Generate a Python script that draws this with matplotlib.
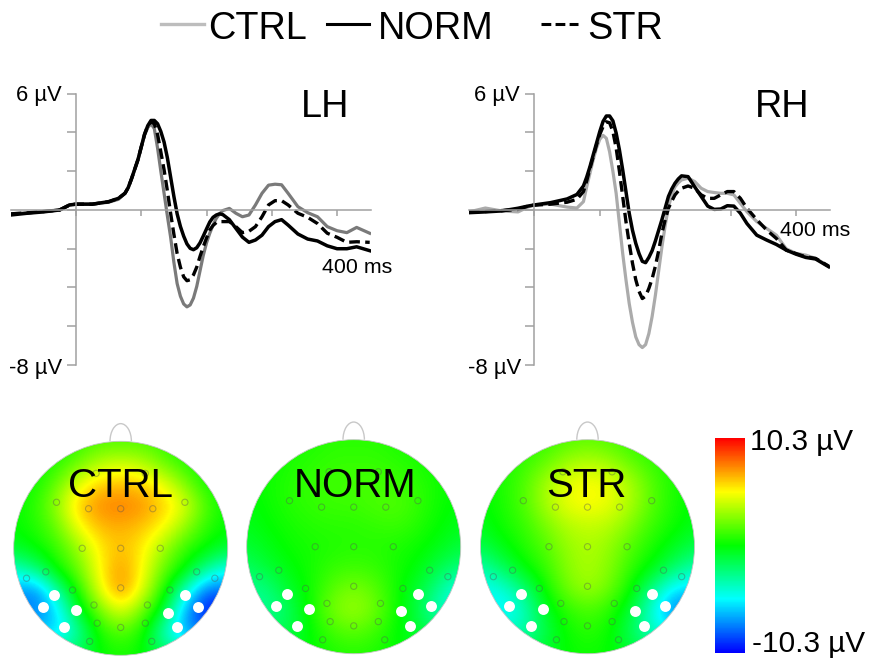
#!/usr/bin/env python3
# ERP waveforms (LH / RH) with scalp topographies for CTRL, NORM, STR
import numpy as np
import matplotlib
matplotlib.use('Agg')
import matplotlib.pyplot as plt
from matplotlib.cm import ScalarMappable
from matplotlib.colors import LinearSegmentedColormap, Normalize
from matplotlib.patches import Arc, Circle

plt.rcParams['font.family'] = ['Liberation Sans', 'DejaVu Sans']

W, H = 892, 668

# ---- waveforms: time in ms, amplitude in uV ----
time_ms = [-100, -75, -50, -25, -10, 0, 25, 50, 65,
           75, 80, 85, 90, 95, 100, 105, 110, 115, 120, 125, 130, 135, 140, 145, 150,
           155, 160, 165, 170, 175, 180, 185, 190, 195, 200, 205, 210, 215, 220, 225,
           235, 245, 255, 265, 275, 285, 295, 305,
           315, 325, 340, 355, 370, 385, 400, 415, 430, 450]

lh_ctrl = [-.2, -.15, -.08, 0, .25, .3, .3, .4, .55,
           .85, 1.15, 1.6, 2.1, 2.6, 3.25, 3.85, 4.25, 4.45, 4.2, 3.2, 2.0, .86, -.3, -1.4, -2.7,
           -3.8, -4.45, -4.85, -5.0, -4.9, -4.55, -3.95, -3.15, -2.35, -1.7, -1.2, -.78, -.43, -.2, -.03,
           .08, -.17, -.35, -.26, .26, .86, 1.28, 1.33,
           1.3, .86, .17, -.14, -.35, -.86, -1.07, -1.17, -.9, -1.2]
lh_norm = [-.26, -.17, -.1, 0, .26, .3, .3, .43, .6,
           .86, 1.15, 1.6, 2.1, 2.6, 3.25, 3.9, 4.35, 4.62, 4.62, 4.45, 4.05, 3.5, 2.7, 1.7, .7,
           -.2, -.85, -1.35, -1.75, -1.98, -2.05, -1.95, -1.7, -1.35, -.98, -.62, -.38, -.26, -.2, -.24,
           -.5, -.95, -1.4, -1.67, -1.55, -1.3, -.86, -.6,
           -.5, -.78, -1.24, -1.5, -1.6, -1.85, -2.0, -2.0, -1.9, -2.1]
lh_str = [-.2, -.15, -.08, 0, .25, .3, .3, .42, .6,
          .86, 1.15, 1.6, 2.1, 2.6, 3.25, 3.9, 4.35, 4.55, 4.45, 3.9, 3.0, 2.07, 1.0, -.17, -1.25,
          -2.25, -2.95, -3.45, -3.65, -3.6, -3.35, -2.95, -2.4, -1.9, -1.45, -1.03, -.8, -.65, -.6, -.6,
          -.6, -.86, -1.17, -1.1, -.86, -.35, .26, .48,
          .48, .26, -.17, -.38, -.7, -1.2, -1.41, -1.67, -1.64, -1.67]

rh_ctrl = [-.1, .1, -.05, -.1, .15, .26, .3, .15, .1,
           .43, 1.2, 1.9, 2.6, 3.2, 3.65, 3.85, 3.7, 3.0, 2.0, .86, -.7, -2.24, -3.6, -4.83, -5.8,
           -6.55, -6.95, -7.1, -6.95, -6.38, -5.5, -4.4, -3.15, -1.9, -.8, .17, .75, 1.2, 1.4, 1.55,
           1.64, 1.47, 1.12, .95, .9, .86, .86, .78,
           .34, -.09, -.6, -.95, -1.3, -2.0, -2.24, -2.33, -2.5, -2.9]
rh_norm = [-.14, -.1, -.05, .09, .2, .26, .38, .57, .8,
           1.24, 1.7, 2.24, 2.85, 3.45, 4.05, 4.57, 4.85, 4.85, 4.6, 3.97, 3.1, 2.07, .95, -.17, -1.05,
           -1.72, -2.25, -2.65, -2.72, -2.45, -2.1, -1.6, -1.05, -.5, .1, .7, 1.08, 1.38, 1.6, 1.76,
           1.72, 1.2, .7, .2, .03, .05, .22, .2,
           -.17, -.7, -1.3, -1.55, -1.78, -2.07, -2.28, -2.45, -2.53, -2.93]
rh_str = [-.1, -.08, -.03, .03, .2, .25, .3, .4, .55,
          .95, 1.5, 2.15, 2.75, 3.36, 3.9, 4.3, 4.55, 4.5, 4.05, 3.2, 2.0, .7, -.6, -1.72, -2.75,
          -3.6, -4.2, -4.57, -4.45, -4.05, -3.55, -2.9, -2.1, -1.2, -.5, .09, .45, .78, .98, 1.12,
          1.24, 1.12, .78, .6, .6, .78, .95, .95,
          .6, .09, -.5, -1.03, -1.47, -2.07, -2.25, -2.42, -2.5, -2.9]

x_ticks = [0, 100, 200, 300, 400]
y_ticks = [-8, -6, -4, -2, 0, 2, 4, 6]

# ---- scalp maps: uV on a coarse grid, rows from front (top) to back ----
map_ctrl = [
    [0, 0, 0, 1, 1.5, 1.5, 1.5, 1, 0, 0, 0],
    [0, 0, .8, 2, 3.5, 4, 3.5, 2, .8, 0, 0],
    [0, .3, 2, 4.5, 6, 6.5, 6, 4.8, 2.5, .3, 0],
    [0, .8, 3, 6.2, 7.6, 7.8, 7.4, 6.2, 4.5, 1.5, 0],
    [0, .6, 2, 5, 6.5, 6.8, 6.3, 5.2, 3, .8, 0],
    [-.8, 0, 1, 3, 5.5, 6.4, 5.5, 3.2, 1, 0, -1],
    [-4, -2.5, .2, 2, 5.2, 7.4, 5.2, 2, 0, -3, -5],
    [-7, -8, -3.5, .5, 4.6, 7.6, 4.6, .5, -4, -8.5, -8],
    [-7, -8, -6, -1, 2, 4.5, 2, -1, -7, -10.3, -10],
    [-5, -6, -6, -3.5, .5, 1.5, .5, -4, -7, -8, -6],
    [0, -2, -2, -1.5, 0, .5, 0, -1.5, -2, -2, 0],
]
map_norm = [
    [0, 0, .3, .5, .8, .8, .8, .5, .3, 0, 0],
    [0, 0, .5, .8, 1, 1, 1, .8, .5, 0, 0],
    [0, .3, .7, 1, 1.2, 1.3, 1.3, 1.2, .8, .3, 0],
    [-.3, .2, .7, 1, 1.2, 1.2, 1.5, 1.6, 1, .2, -.2],
    [-.5, 0, .4, .7, .8, .8, 1, 1.2, .7, 0, -.5],
    [-1, -.4, .2, .4, .6, .7, .7, .5, .2, -.4, -1.2],
    [-2, -1, -.2, .4, 1, 1.2, 1, .4, -.2, -1.5, -2.5],
    [-3, -2.5, -.8, .3, 1.8, 2.5, 1.8, .3, -1, -3, -5],
    [-3, -3, -1.8, .4, 2.4, 3.2, 2.2, .3, -1.5, -4, -5],
    [-2, -2, -1.5, 0, 1.3, 1.8, 1.2, 0, -1, -2, -2],
    [0, -.8, -.6, 0, .5, .7, .5, 0, -.5, -.8, 0],
]
map_str = [
    [0, 0, .5, 1, 1.5, 1.8, 1.5, 1, .5, 0, 0],
    [0, .3, 1, 1.8, 3, 3.5, 3, 1.8, 1, .3, 0],
    [0, .5, 1.5, 3.2, 4.6, 5.1, 4.7, 3.4, 1.6, .5, 0],
    [-.2, .5, 1.5, 3.4, 4.8, 5.2, 4.8, 3.5, 1.7, .5, -.2],
    [-.5, .3, 1, 2.4, 3.6, 4, 3.7, 2.6, 1.1, .3, -.5],
    [-1.5, -.3, .6, 1.6, 3, 3.5, 3, 1.6, .5, -.5, -1.5],
    [-3.5, -1.8, -.1, 1, 2.7, 3.5, 2.7, 1, -.2, -2, -3.5],
    [-5, -4.5, -2.5, .2, 2.2, 3.2, 2.2, .2, -2.8, -5.5, -6],
    [-5, -5.5, -4, -.8, .8, 1.5, .8, -1, -4.5, -8, -8],
    [-4, -4, -3.5, -1.5, .2, .8, .2, -1.8, -4, -5, -5],
    [0, -2, -2, -.8, 0, .3, 0, -.8, -2, -2, 0],
]

elec_x = [-.6, -.3, 0, .3, .6, -.36, 0, .37, -.7, -.88, .71, .88, -.45, .46, 0, -.25, .25,
          -.22, 0, .23, -.29, .29, -.23, .23]
elec_y = [.43, .37, .37, .37, .43, 0, 0, 0, -.22, -.28, -.22, -.28, -.39, -.39, -.37, -.53, -.53,
          -.7, -.74, -.7, -.87, -.87, .7, .7]
roi_x = [-.62, -.73, -.42, -.53, .6, .72, .44, .53]
roi_y = [-.44, -.55, -.58, -.74, -.44, -.55, -.6, -.74]

cmap = LinearSegmentedColormap.from_list(
    'erp', ['#0000ff', '#00ffff', '#00ff00', '#ffff00', '#ff0000'])
norm = Normalize(-10.3, 10.3)


def px_axes(x0, y0, x1, y1, **kw):
    # axes from pixel box, y counted from the top of the image
    return fig.add_axes([x0 / W, 1 - y1 / H, (x1 - x0) / W, (y1 - y0) / H], **kw)


def erp_panel(x_left, x_right, ctrl, normal, stress, ctrl_color):
    ax = px_axes(x_left, 93.7, x_right, 365)
    ax.patch.set_alpha(0)
    ax.plot(time_ms, ctrl, color=ctrl_color, lw=2.3)
    ax.plot(time_ms, stress, color='black', lw=2.4, ls=(0, (3.2, 1.6)))
    ax.plot(time_ms, normal, color='black', lw=2.5)
    ax.set_xlim(-100, 452)
    ax.set_ylim(-8, 6)
    for side in ('top', 'right'):
        ax.spines[side].set_visible(False)
    ax.spines['left'].set_position(('data', 0))
    ax.spines['bottom'].set_position(('data', 0))
    ax.spines['left'].set_color('#a0a0a0')
    ax.spines['bottom'].set_color('#a0a0a0')
    ax.spines['left'].set_linewidth(1.1)
    ax.spines['bottom'].set_linewidth(1.1)
    ax.set_xticks(x_ticks)
    ax.set_yticks(y_ticks)
    ax.set_xticklabels([])
    ax.set_yticklabels([])
    ax.tick_params(axis='x', color='#a0a0a0', length=4.5, width=1.1)
    ax.tick_params(axis='y', color='#a0a0a0', length=6.5, width=1.1)
    return ax


def head(cx, cy, values):
    r = 107
    ax = px_axes(cx - 1.2 * r, cy - 1.2 * r, cx + 1.2 * r, cy + 1.2 * r)
    ax.axis('off')
    im = ax.imshow(values, cmap=cmap, norm=norm, extent=(-1.1, 1.1, -1.1, 1.1),
                   interpolation='bicubic', origin='upper')
    outline = Circle((0, 0), 1, transform=ax.transData, fc='none', ec='#c4c4c4', lw=0.6)
    ax.add_patch(outline)
    im.set_clip_path(outline)
    ax.add_patch(Arc((0, 1.0), .2, .33, theta1=0, theta2=180, color='#c8c8c8', lw=1))
    ax.scatter(elec_x, elec_y, s=20, fc='none', ec='#555555', lw=.8, alpha=.4)
    ax.scatter(roi_x, roi_y, s=62, color='white', lw=0)
    ax.set_xlim(-1.2, 1.2)
    ax.set_ylim(-1.2, 1.2)
    return ax


fig = plt.figure(figsize=(W / 100, H / 100), dpi=100)

erp_panel(10.7, 371, lh_ctrl, lh_norm, lh_str, '#7a7a7a')
erp_panel(469, 830, rh_ctrl, rh_norm, rh_str, '#ababab')

head(120.7, 548.3, map_ctrl)
head(353.7, 546.7, map_norm)
head(587.5, 546.7, map_str)

cax = px_axes(715, 438, 745, 652.7)
cb = fig.colorbar(ScalarMappable(norm=norm, cmap=cmap), cax=cax)
cb.set_ticks([])
cb.outline.set_visible(False)

# overlay in image pixels for legend and all the free text
ov = fig.add_axes([0, 0, 1, 1])
ov.set_xlim(0, W)
ov.set_ylim(H, 0)
ov.axis('off')

ov.plot([161, 204], [23.7, 23.7], color='#bdbdbd', lw=2.4)
ov.plot([327, 369], [23.7, 23.7], color='black', lw=2.2)
ov.plot([541, 578], [23.7, 23.7], color='black', lw=2.2, ls=(0, (3.2, 1.4)))
for x, s in zip([208, 378, 587], ['CTRL', 'NORM', 'STR']):
    ov.text(x, 25, s, fontsize=27.3, ha='left', va='center_baseline')

ov.text(325.5, 103, 'LH', fontsize=27.3, ha='center', va='center_baseline')
ov.text(782, 103, 'RH', fontsize=27.3, ha='center', va='center_baseline')

for x, y, s in [(62, 93, '6 µV'), (62, 366, '-8 µV'), (520, 93, '6 µV'), (521, 366, '-8 µV')]:
    ov.text(x, y, s, fontsize=15.8, ha='right', va='center_baseline')
ov.text(322, 265.7, '400 ms', fontsize=15.4, ha='left', va='center_baseline')
ov.text(780, 229, '400 ms', fontsize=15.4, ha='left', va='center_baseline')

for x, s in zip([120.7, 355, 586.7], ['CTRL', 'NORM', 'STR']):
    ov.text(x, 482, s, fontsize=29, ha='center', va='center_baseline')

ov.text(750, 439, '10.3 µV', fontsize=21.4, ha='left', va='center_baseline')
ov.text(752, 641, '-10.3 µV', fontsize=21.4, ha='left', va='center_baseline')

fig.savefig('out.png', dpi=100)
